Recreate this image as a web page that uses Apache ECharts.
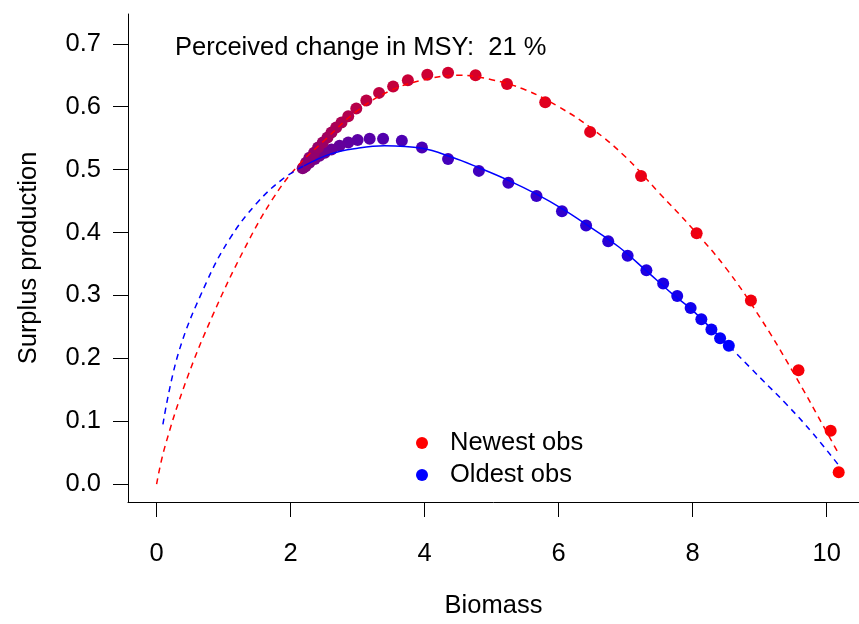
<!DOCTYPE html>
<html>
<head>
<meta charset="utf-8">
<script src="https://cdn.jsdelivr.net/npm/echarts@6/dist/echarts.min.js"></script>
<style>
  html, body { margin: 0; padding: 0; background: #fff; }
  #chart { width: 859px; height: 624px; }
</style>
</head>
<body>
<div id="chart"></div>
<script>
// observations in time order: oldest first (blue) -> newest last (red)
const observations = [
  [8.54, 0.220], [8.41, 0.232], [8.28, 0.246], [8.13, 0.262], [7.97, 0.280],
  [7.77, 0.299], [7.56, 0.319], [7.31, 0.340], [7.03, 0.363], [6.74, 0.386],
  [6.41, 0.411], [6.05, 0.434], [5.67, 0.458], [5.25, 0.479], [4.81, 0.498],
  [4.35, 0.517], [3.96, 0.535], [3.66, 0.546], [3.38, 0.549], [3.18, 0.549],
  [3.00, 0.547], [2.86, 0.543], [2.73, 0.538], [2.61, 0.532], [2.51, 0.527],
  [2.43, 0.522], [2.36, 0.517], [2.28, 0.511], [2.22, 0.505],
  [2.18, 0.502], [2.23, 0.511], [2.28, 0.519], [2.35, 0.527], [2.41, 0.535],
  [2.48, 0.543], [2.55, 0.551], [2.61, 0.559], [2.68, 0.567], [2.76, 0.575],
  [2.86, 0.585], [2.98, 0.597], [3.13, 0.610], [3.32, 0.622], [3.53, 0.632],
  [3.75, 0.642], [4.04, 0.651], [4.35, 0.654], [4.76, 0.650], [5.23, 0.636],
  [5.80, 0.607], [6.47, 0.560], [7.23, 0.490], [8.06, 0.399], [8.87, 0.292],
  [9.58, 0.181], [10.06, 0.085], [10.18, 0.019]
]

// fitted curve from newest obs (dashed over whole range)
const newestCurve = [
  [0, 0], [0.12, 0.058], [0.44, 0.164], [0.84, 0.269], [1.31, 0.374],
  [1.73, 0.453], [2.1, 0.505], [2.5, 0.546], [3.0, 0.594], [3.5, 0.626],
  [4.0, 0.643], [4.5, 0.650], [5.0, 0.643], [5.5, 0.627], [6.0, 0.600],
  [6.5, 0.565], [7.0, 0.520], [7.5, 0.463], [8.0, 0.406], [8.5, 0.343],
  [9.0, 0.266], [9.5, 0.178], [10.0, 0.083], [10.18, 0.048]
]

// fitted curve from oldest obs: extrapolated below, fitted range, extrapolated above
const oldestCurveLow = [
  [0.094, 0.095], [0.33, 0.21], [0.74, 0.32], [1.09, 0.39], [1.49, 0.446],
  [1.88, 0.485], [2.2, 0.506]
]
const oldestCurveFit = [
  [2.2, 0.506], [2.6, 0.525], [3.0, 0.534], [3.4, 0.538], [3.96, 0.534],
  [4.4, 0.520], [4.81, 0.503], [5.25, 0.483], [5.67, 0.461], [6.05, 0.438],
  [6.41, 0.413], [6.9, 0.377], [7.31, 0.339], [7.7, 0.302], [7.97, 0.279],
  [8.3, 0.245], [8.55, 0.219]
]
const oldestCurveHigh = [
  [8.55, 0.219], [9.0, 0.170], [9.4, 0.127], [9.8, 0.080], [10.18, 0.030]
]

const xTicks = [0, 2, 4, 6, 8, 10]
const yTicks = [0, 0.1, 0.2, 0.3, 0.4, 0.5, 0.6, 0.7]
const msyChange = 21

const font = '"Liberation Sans", Arial, sans-serif'
const obsData = observations.map((p, i) => [p[0], p[1], i])

const chart = echarts.init(document.getElementById('chart'))
chart.setOption({
  animation: false,
  textStyle: { fontFamily: font },
  title: {
    text: 'Perceived change in MSY:  ' + msyChange + ' %',
    left: 170,
    top: 30,
    textStyle: { fontFamily: font, fontSize: 25.5, fontWeight: 'normal', color: '#000' }
  },
  legend: {
    orient: 'vertical',
    left: 411,
    top: 425,
    itemWidth: 12,
    itemHeight: 12,
    itemGap: 6,
    icon: 'circle',
    data: ['Newest obs', 'Oldest obs'],
    textStyle: { fontFamily: font, fontSize: 25.5, color: '#000', padding: [0, 0, 0, 17] }
  },
  grid: { left: 128, right: 0, top: 14, bottom: 119 },
  xAxis: {
    type: 'value',
    min: -0.427,
    max: 10.483,
    name: 'Biomass',
    nameLocation: 'middle',
    nameGap: 91,
    nameTextStyle: { fontFamily: font, fontSize: 25.5, color: '#000' },
    splitLine: { show: false },
    axisLine: { onZero: false, lineStyle: { color: '#000', width: 1 } },
    axisTick: { length: 15, lineStyle: { color: '#000' }, customValues: xTicks },
    axisLabel: { margin: 39, fontSize: 25.5, color: '#000', customValues: xTicks }
  },
  yAxis: {
    type: 'value',
    min: -0.0284,
    max: 0.7474,
    name: 'Surplus production',
    nameLocation: 'middle',
    nameGap: 86,
    nameTextStyle: { fontFamily: font, fontSize: 25.5, color: '#000' },
    splitLine: { show: false },
    axisLine: { onZero: false, lineStyle: { color: '#000', width: 1 } },
    axisTick: { length: 15, lineStyle: { color: '#000' }, customValues: yTicks },
    axisLabel: {
      margin: 27, fontSize: 25.5, color: '#000', customValues: yTicks,
      formatter: v => v.toFixed(1)
    }
  },
  visualMap: {
    show: false,
    type: 'continuous',
    seriesIndex: 0,
    dimension: 2,
    min: 0,
    max: observations.length - 1,
    inRange: { color: ['#0000ff', '#ff0000'] }
  },
  series: [
    {
      name: 'obs',
      type: 'scatter',
      data: obsData,
      symbolSize: 12,
      itemStyle: { opacity: 1 },
      z: 2
    },
    {
      name: 'Newest obs',
      type: 'line',
      data: newestCurve,
      smooth: 0.4,
      showSymbol: false,
      color: '#ff0000',
      lineStyle: { color: '#ff0000', width: 1.5, type: [6, 5] },
      z: 3
    },
    {
      name: 'Oldest obs',
      type: 'line',
      data: oldestCurveFit,
      smooth: 0.4,
      showSymbol: false,
      color: '#0000ff',
      lineStyle: { color: '#0000ff', width: 1.5 },
      z: 3
    },
    {
      name: 'oldLow',
      type: 'line',
      data: oldestCurveLow,
      smooth: 0.4,
      showSymbol: false,
      lineStyle: { color: '#0000ff', width: 1.5, type: [6, 5] },
      z: 3
    },
    {
      name: 'oldHigh',
      type: 'line',
      data: oldestCurveHigh,
      smooth: 0.4,
      showSymbol: false,
      lineStyle: { color: '#0000ff', width: 1.5, type: [6, 5] },
      z: 3
    }
  ]
})
</script>
</body>
</html>
